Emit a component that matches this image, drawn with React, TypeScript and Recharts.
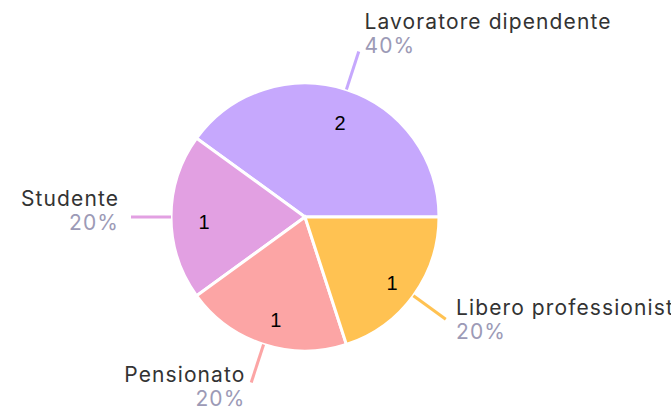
import React from "react";
import { PieChart, Pie, Cell } from "recharts";

const categories = ["Lavoratore dipendente", "Studente", "Pensionato", "Libero professionista"];
const values = [2, 1, 1, 1];
const colors = ["#C6A8FD", "#E2A0E2", "#FCA5A5", "#FFC252"];

const data = categories.map((name, i) => ({ name, value: values[i] }));

const RAD = Math.PI / 180;

const renderLabel = (props: any) => {
  const { cx, cy, midAngle, outerRadius, percent, name, value, index } = props;
  const c = Math.cos(-midAngle * RAD);
  const s = Math.sin(-midAngle * RAD);
  const sinUp = Math.sin(midAngle * RAD);
  const color = colors[index % colors.length];
  const x1 = cx + outerRadius * c;
  const y1 = cy + outerRadius * s;
  const x2 = cx + (outerRadius + 40) * c;
  const y2 = cy + (outerRadius + 40) * s;
  const right = c >= 0;
  const tx = x2 + (right ? 1 : -1) * (3 + 9 * Math.abs(c));
  const blockCenter = y2 - 7 - 12 * sinUp;
  const ir = 104;
  const ix = cx + ir * c + 3;
  const iy = cy + ir * s + 4.5;
  return (
    <g>
      <line x1={x1} y1={y1} x2={x2} y2={y2} stroke={color} strokeWidth={3} />
      <text
        x={tx}
        y={blockCenter - 12}
        textAnchor={right ? "start" : "end"}
        dominantBaseline="central"
        fill="#333333"
        fontSize={21}
        letterSpacing={1.1}
        fontFamily="Inter, sans-serif"
      >
        {name}
      </text>
      <text
        x={tx}
        y={blockCenter + 12}
        textAnchor={right ? "start" : "end"}
        dominantBaseline="central"
        fill="#9C9AB6"
        fontSize={21}
        letterSpacing={1.1}
        fontFamily="Inter, sans-serif"
      >
        {`${Math.round(percent * 100)}%`}
      </text>
      <text
        x={ix}
        y={iy}
        textAnchor="middle"
        dominantBaseline="central"
        fill="#000000"
        fontSize={20}
        fontFamily="'Liberation Sans', Arial, sans-serif"
      >
        {value}
      </text>
    </g>
  );
};

export default function App() {
  return (
    <div style={{ position: "fixed", left: 0, top: 0, width: 671, height: 411, background: "#fff" }}>
      <PieChart width={671} height={411}>
        <Pie
          data={data}
          dataKey="value"
          nameKey="name"
          cx={300}
          cy={212}
          outerRadius={134}
          startAngle={0}
          endAngle={360}
          stroke="#ffffff"
          strokeWidth={3}
          label={renderLabel}
          labelLine={false}
          isAnimationActive={false}
        >
          {data.map((d, i) => (
            <Cell key={d.name} fill={colors[i]} />
          ))}
        </Pie>
      </PieChart>
    </div>
  );
}
